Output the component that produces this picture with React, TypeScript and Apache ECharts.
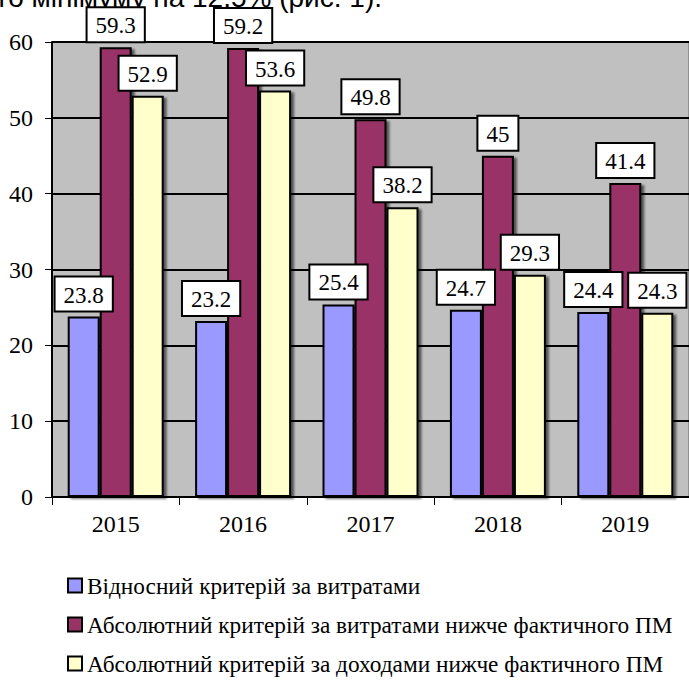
import React, { useEffect, useRef } from "react";
import * as echarts from "echarts";

const years = ["2015", "2016", "2017", "2018", "2019"];
const relativeByExpenses = [23.8, 23.2, 25.4, 24.7, 24.4];
const absoluteByExpenses = [59.3, 59.2, 49.8, 45, 41.4];
const absoluteByIncome = [52.9, 53.6, 38.2, 29.3, 24.3];
const seriesNames = [
  "Відносний критерій за витратами",
  "Абсолютний критерій за витратами нижче фактичного ПМ",
  "Абсолютний критерій за доходами нижче фактичного ПМ",
];
const seriesColors = ["#9999FF", "#993366", "#FFFFCC"];
const headerText = "прожиткового мінімуму на 12,5% (рис. 1).";

const SERIF = "'Liberation Serif', 'Times New Roman', serif";
const SANS = "'Liberation Sans', Arial, sans-serif";

export default function App() {
  const ref = useRef<HTMLDivElement>(null);
  useEffect(() => {
    if (!ref.current) return;
    const chart = echarts.init(ref.current, null, { renderer: "svg" });
    const data = [relativeByExpenses, absoluteByExpenses, absoluteByIncome];
    const legendTops = [569, 608, 647];
    chart.setOption({
      animation: false,
      backgroundColor: "#ffffff",
      grid: {
        left: 52,
        right: 0,
        top: 42,
        bottom: 183,
        show: true,
        backgroundColor: "#C0C0C0",
        borderColor: "#606060",
        borderWidth: 1,
      },
      graphic: [
        {
          type: "text",
          x: 382,
          y: -3,
          style: {
            text: headerText,
            font: `28px ${SANS}`,
            fill: "#000",
            textAlign: "right",
            textVerticalAlign: "middle",
          },
        },
      ],
      legend: seriesNames.map((name, i) => ({
        orient: "vertical",
        left: 62,
        top: legendTops[i],
        itemWidth: 14,
        itemHeight: 14,
        icon: "rect",
        itemStyle: { borderColor: "#000", borderWidth: 2 },
        textStyle: { fontFamily: SERIF, fontSize: 23.3, color: "#000" },
        data: [name],
      })),
      xAxis: {
        type: "category",
        data: years,
        axisLine: { show: true, lineStyle: { color: "#000", width: 2 } },
        axisTick: { show: true, length: 8, lineStyle: { color: "#000", width: 1 } },
        axisLabel: { fontFamily: SERIF, fontSize: 24, color: "#000", margin: 15 },
        splitLine: { show: false },
      },
      yAxis: {
        type: "value",
        min: 0,
        max: 60,
        interval: 10,
        axisLine: { show: true, lineStyle: { color: "#000", width: 2 } },
        axisTick: { show: true, length: 7, lineStyle: { color: "#000", width: 1 } },
        axisLabel: { fontFamily: SERIF, fontSize: 24, color: "#000", margin: 19 },
        splitLine: { show: true, lineStyle: { color: "#000", width: 2 } },
      },
      series: data.map((values, i) => ({
        name: seriesNames[i],
        type: "bar",
        data: values,
        barWidth: 32,
        barGap: "0%",
        itemStyle: {
          color: seriesColors[i],
          borderColor: "#000",
          borderWidth: 2,
          shadowColor: "rgba(0,0,0,0.55)",
          shadowOffsetX: 3,
          shadowOffsetY: 2,
          shadowBlur: 2,
        },
        label: {
          show: true,
          position: "top",
          distance: 6,
          fontFamily: SERIF,
          fontSize: 23,
          color: "#000",
          backgroundColor: "#fff",
          borderColor: "#000",
          borderWidth: 2,
          padding: [6, 8, 4, 8],
        },
      })),
    });
    return () => chart.dispose();
  }, []);
  return (
    <div
      ref={ref}
      style={{ position: "fixed", left: 0, top: 0, width: 689, height: 680 }}
    />
  );
}
